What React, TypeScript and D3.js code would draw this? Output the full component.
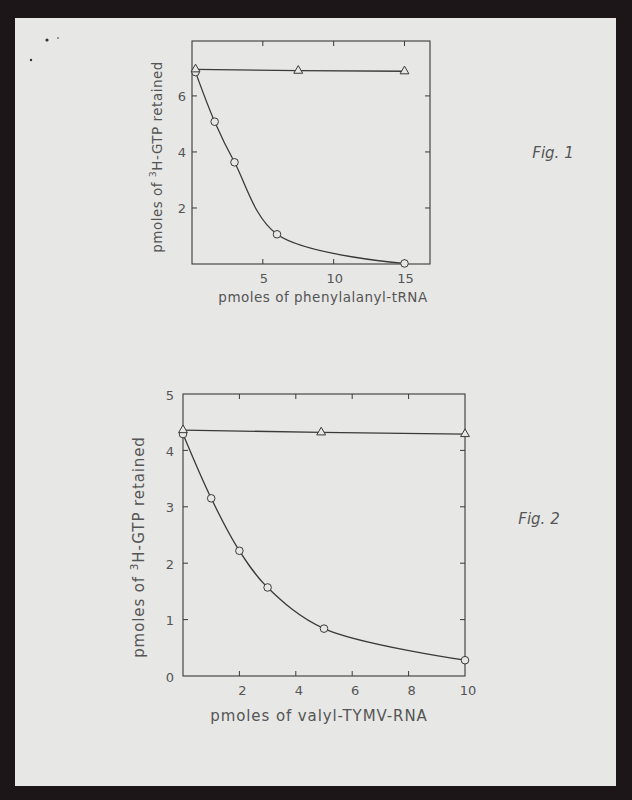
import React, { useEffect, useRef } from 'react';
import * as d3 from 'd3';

// Fig. 1 — phenylalanyl-tRNA
const fig1CircleX = [0.25, 1.6, 3.0, 6.0, 15];
const fig1CircleY = [6.85, 5.08, 3.63, 1.06, 0.02];
const fig1TriX = [0.25, 7.5, 15];
const fig1TriY = [6.95, 6.9, 6.88];
const fig1XTicks = [5, 10, 15];
const fig1YTicks = [2, 4, 6];

// Fig. 2 — valyl-TYMV-RNA
const fig2CircleX = [0, 1, 2, 3, 5, 10];
const fig2CircleY = [4.29, 3.15, 2.22, 1.57, 0.84, 0.28];
const fig2TriX = [0, 4.9, 10];
const fig2TriY = [4.36, 4.32, 4.29];
const fig2XTicks = [2, 4, 6, 8, 10];
const fig2YTicks = [0, 1, 2, 3, 4, 5];

const INK = '#3a3a3a';
const LABEL = '#555';
const PAPER = '#e7e7e5';
const FONT = '"DejaVu Sans", "Liberation Sans", sans-serif';

type Panel = {
  left: number; right: number; top: number; bottom: number;
  xDomain: [number, number]; yDomain: [number, number];
  circleX: number[]; circleY: number[]; triX: number[]; triY: number[];
  xTicks: number[]; yTicks: number[];
  xTitle: string; titleSize: number; tickSize: number;
  yLabelX: number; xLabelY: number; xLabelShift: number;
  yTitleX: number; yTitleY: number; xTitleX: number; xTitleY: number; spacing: number;
};

const drawPanel = (root: d3.Selection<SVGGElement, unknown, null, undefined>, p: Panel) => {
  const x = d3.scaleLinear().domain(p.xDomain).range([p.left, p.right]);
  const y = d3.scaleLinear().domain(p.yDomain).range([p.bottom, p.top]);
  const g = root.append('g');

  g.append('rect')
    .attr('x', p.left).attr('y', p.top)
    .attr('width', p.right - p.left).attr('height', p.bottom - p.top)
    .attr('fill', 'none').attr('stroke', INK).attr('stroke-width', 1.1);

  // inward ticks on all four edges
  p.xTicks.filter(t => x(t) < p.right - 4).forEach(t => {
    g.append('line')
      .attr('x1', x(t)).attr('x2', x(t)).attr('y1', p.top).attr('y2', p.top + 5)
      .attr('stroke', INK).attr('stroke-width', 1);
    g.append('line')
      .attr('x1', x(t)).attr('x2', x(t)).attr('y1', p.bottom).attr('y2', p.bottom - 5)
      .attr('stroke', INK).attr('stroke-width', 1);
  });
  p.yTicks.filter(t => y(t) > p.top + 4 && y(t) < p.bottom - 4).forEach(t => {
    g.append('line')
      .attr('x1', p.right).attr('x2', p.right - 5).attr('y1', y(t)).attr('y2', y(t))
      .attr('stroke', INK).attr('stroke-width', 1);
    g.append('line')
      .attr('x1', p.left).attr('x2', p.left + 5).attr('y1', y(t)).attr('y2', y(t))
      .attr('stroke', INK).attr('stroke-width', 1);
  });

  g.selectAll('.xl').data(p.xTicks).enter().append('text')
    .attr('x', d => x(d) + p.xLabelShift).attr('y', p.xLabelY)
    .attr('text-anchor', 'middle').attr('dominant-baseline', 'central')
    .attr('font-size', p.tickSize).attr('fill', LABEL).attr('font-family', FONT)
    .text(d => d);
  g.selectAll('.yl').data(p.yTicks).enter().append('text')
    .attr('x', p.yLabelX).attr('y', d => y(d) + 1)
    .attr('text-anchor', 'middle').attr('dominant-baseline', 'central')
    .attr('font-size', p.tickSize).attr('fill', LABEL).attr('font-family', FONT)
    .text(d => d);

  // axis titles
  g.append('text')
    .attr('x', p.xTitleX).attr('y', p.xTitleY)
    .attr('text-anchor', 'middle').attr('dominant-baseline', 'central')
    .attr('font-size', p.titleSize).attr('fill', LABEL).attr('font-family', FONT)
    .attr('letter-spacing', p.spacing)
    .text(p.xTitle);
  const yt = g.append('text')
    .attr('transform', `translate(${p.yTitleX},${p.yTitleY}) rotate(-90)`)
    .attr('text-anchor', 'middle')
    .attr('font-size', p.titleSize).attr('fill', LABEL).attr('font-family', FONT)
    .attr('letter-spacing', p.spacing);
  yt.append('tspan').text('pmoles of ');
  yt.append('tspan').attr('dy', -6).attr('font-size', p.titleSize * 0.7).text('3');
  yt.append('tspan').attr('dy', 6).text('H-GTP retained');

  const circles = p.circleX.map((v, i) => [v, p.circleY[i]] as [number, number]);
  const tris = p.triX.map((v, i) => [v, p.triY[i]] as [number, number]);

  const curve = d3.line<[number, number]>()
    .x(d => x(d[0])).y(d => y(d[1]))
    .curve(d3.curveCatmullRom.alpha(0.5));
  const straight = d3.line<[number, number]>()
    .x(d => x(d[0])).y(d => y(d[1]));

  g.append('path').attr('d', straight(tris)!)
    .attr('fill', 'none').attr('stroke', INK).attr('stroke-width', 1.3);
  g.append('path').attr('d', curve(circles)!)
    .attr('fill', 'none').attr('stroke', INK).attr('stroke-width', 1.3);

  g.selectAll('.c').data(circles).enter().append('circle')
    .attr('cx', d => x(d[0])).attr('cy', d => y(d[1])).attr('r', 3.8)
    .attr('fill', PAPER).attr('stroke', INK).attr('stroke-width', 1);

  const tri = d3.symbol().type(d3.symbolTriangle).size(34);
  g.selectAll('.t').data(tris).enter().append('path')
    .attr('d', tri()!)
    .attr('transform', d => `translate(${x(d[0])},${y(d[1])})`)
    .attr('fill', PAPER).attr('stroke', INK).attr('stroke-width', 1);
};

const App = () => {
  const svgRef = useRef<SVGSVGElement>(null);

  useEffect(() => {
    const svg = d3.select(svgRef.current);
    svg.selectAll('*').remove();

    svg.append('rect').attr('width', 632).attr('height', 800).attr('fill', '#1d1619');
    svg.append('rect')
      .attr('x', 15).attr('y', 18).attr('width', 601).attr('height', 768)
      .attr('fill', PAPER);

    // specks on the scan
    [[47, 40, 1.6], [31, 60, 1.2], [58, 38, 0.8]].forEach(([cx, cy, r]) => {
      svg.append('circle').attr('cx', cx).attr('cy', cy).attr('r', r).attr('fill', '#333');
    });

    const root = svg.append('g');

    drawPanel(root, {
      left: 192, right: 430, top: 41, bottom: 264,
      xDomain: [0, 16.8], yDomain: [0, 7.96],
      circleX: fig1CircleX, circleY: fig1CircleY, triX: fig1TriX, triY: fig1TriY,
      xTicks: fig1XTicks, yTicks: fig1YTicks,
      xTitle: 'pmoles of phenylalanyl-tRNA', titleSize: 13.5, tickSize: 13,
      yLabelX: 182, xLabelY: 278, xLabelShift: 1,
      yTitleX: 162, yTitleY: 157, xTitleX: 323, xTitleY: 297, spacing: 0.5,
    });

    drawPanel(root, {
      left: 183, right: 465, top: 394, bottom: 676,
      xDomain: [0, 10], yDomain: [0, 5],
      circleX: fig2CircleX, circleY: fig2CircleY, triX: fig2TriX, triY: fig2TriY,
      xTicks: fig2XTicks, yTicks: fig2YTicks,
      xTitle: 'pmoles of valyl-TYMV-RNA', titleSize: 15, tickSize: 13,
      yLabelX: 170, xLabelY: 690, xLabelShift: 3,
      yTitleX: 144, yTitleY: 547, xTitleX: 319, xTitleY: 716, spacing: 0.9,
    });

    svg.append('text').attr('x', 553).attr('y', 158).attr('text-anchor', 'middle')
      .attr('font-size', 15).attr('font-style', 'italic').attr('fill', '#555')
      .attr('font-family', FONT).text('Fig. 1');
    svg.append('text').attr('x', 539).attr('y', 524).attr('text-anchor', 'middle')
      .attr('font-size', 15).attr('font-style', 'italic').attr('fill', '#555')
      .attr('font-family', FONT).text('Fig. 2');
  }, []);

  return (
    <svg ref={svgRef} width={632} height={800}
      style={{ position: 'absolute', left: 0, top: 0, display: 'block' }} />
  );
};

export default App;
